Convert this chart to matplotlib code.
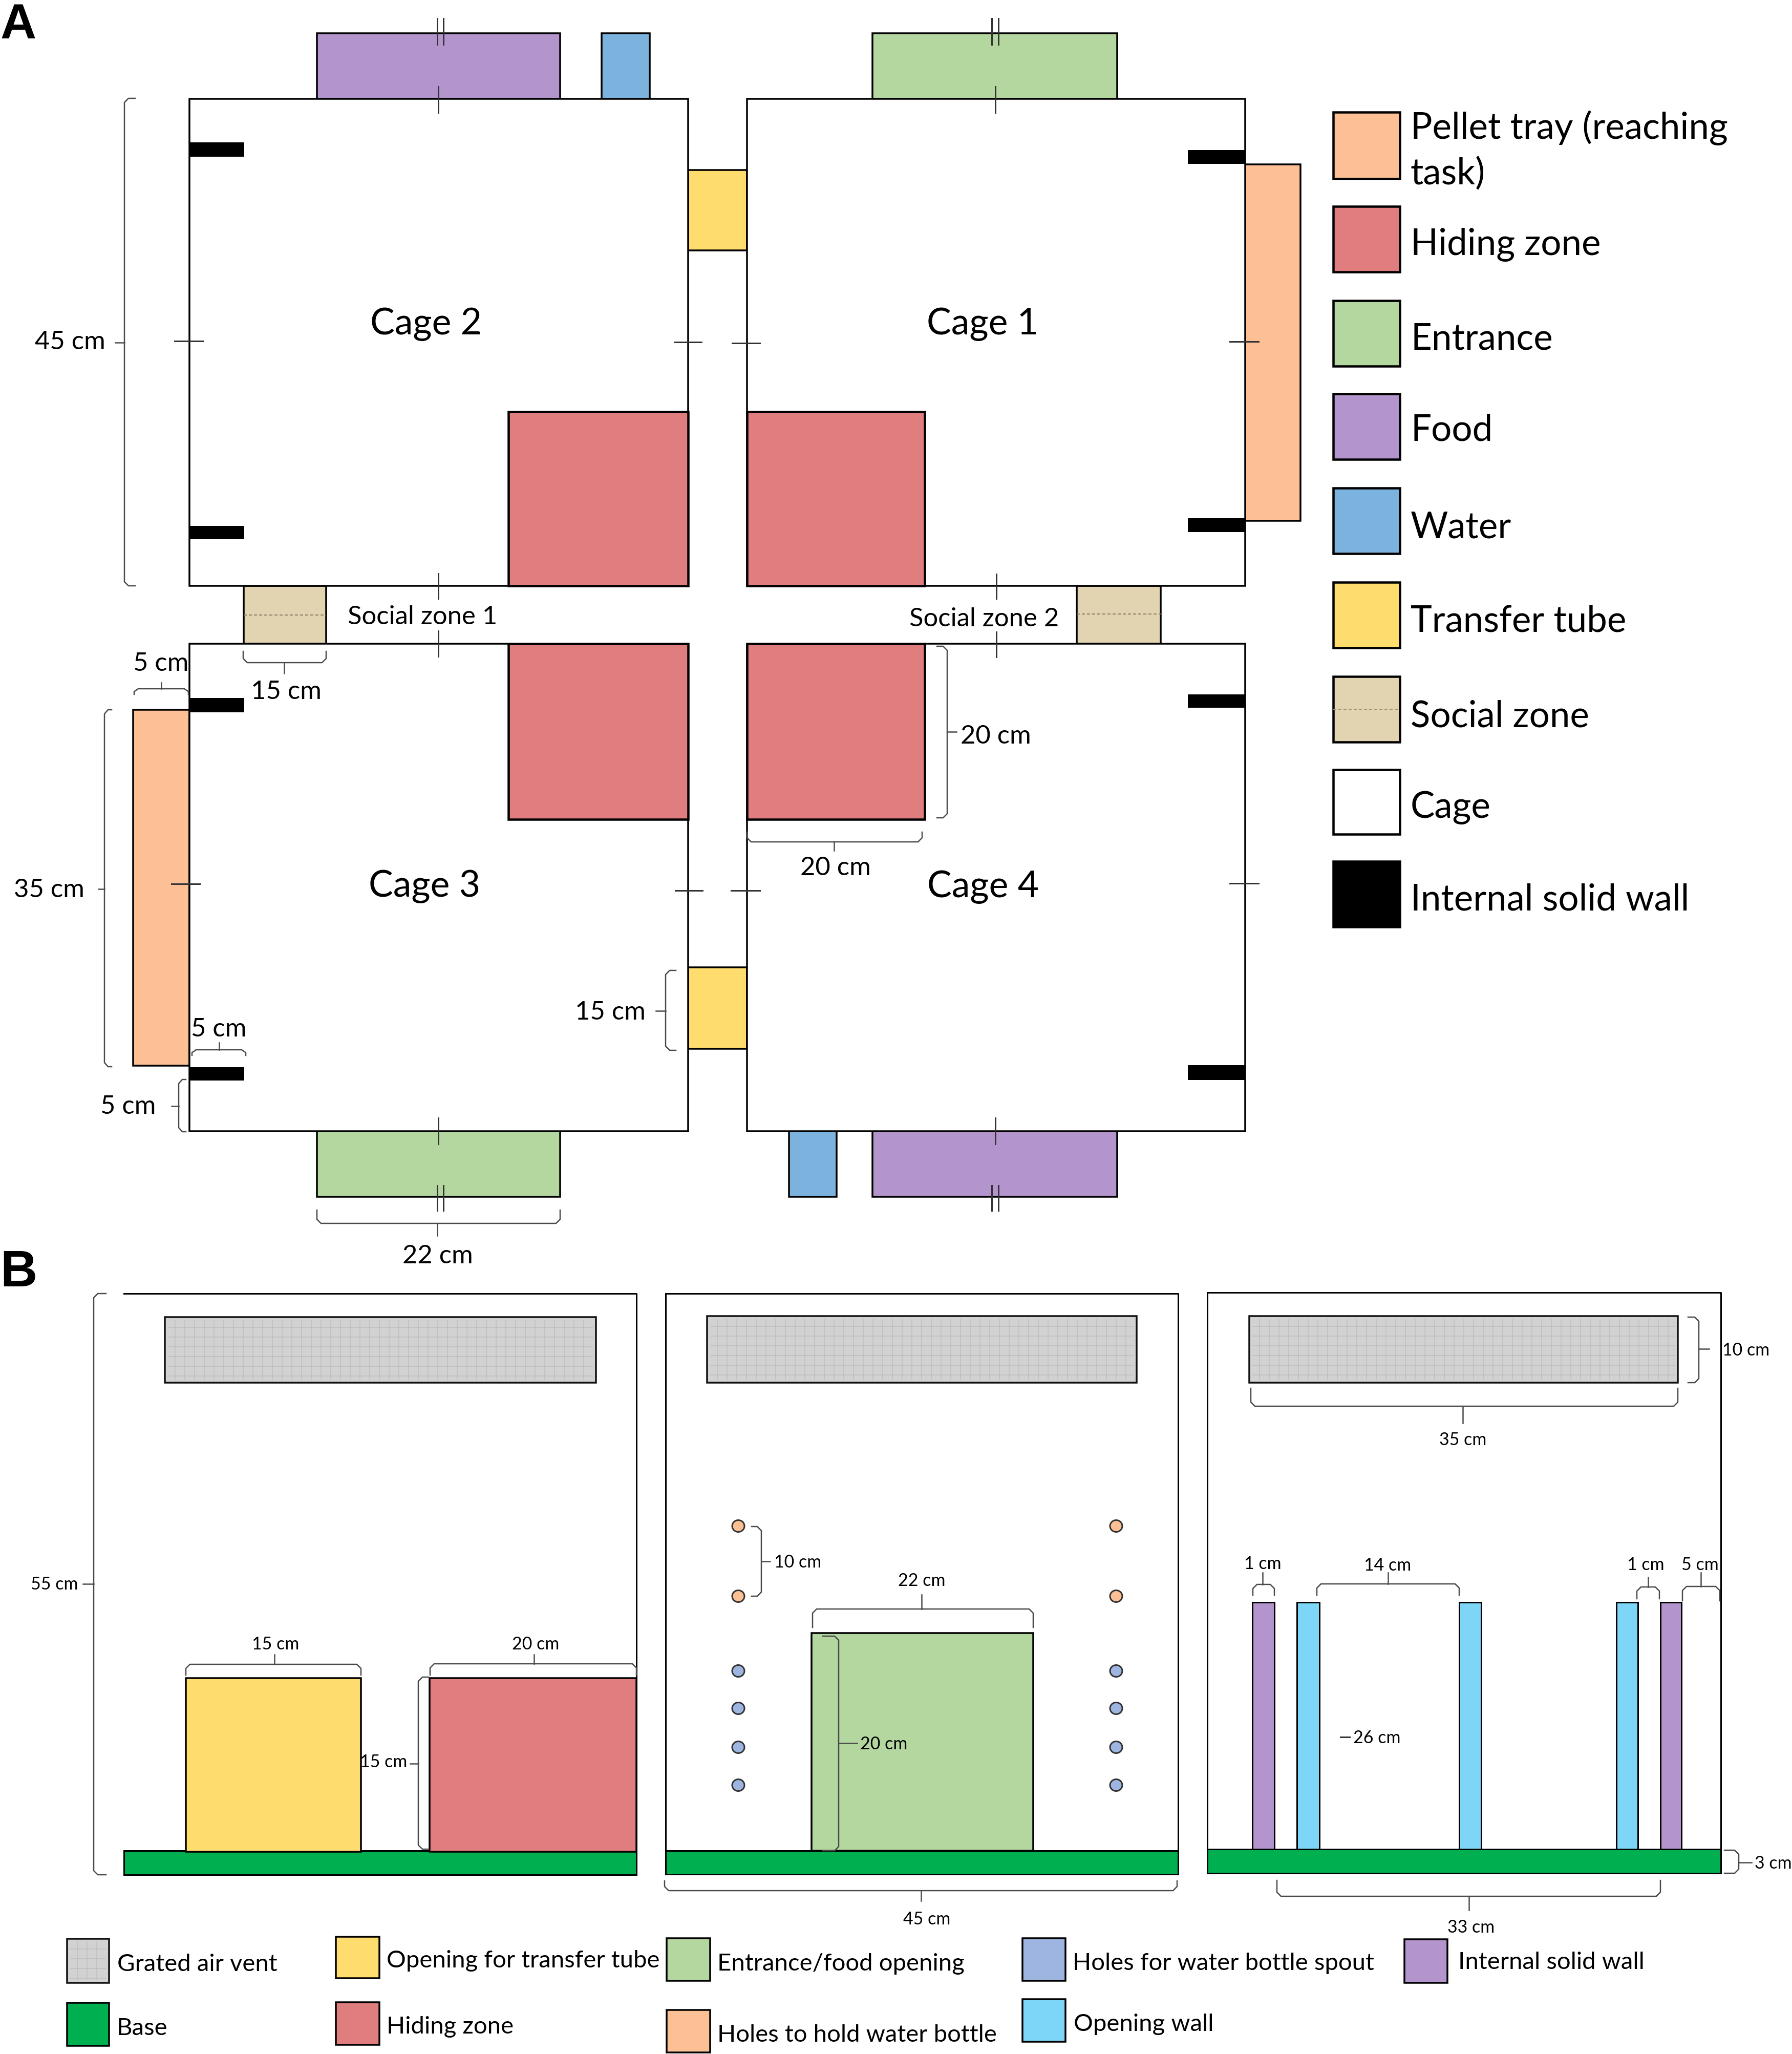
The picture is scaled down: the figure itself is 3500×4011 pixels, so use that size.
import matplotlib
matplotlib.use("Agg")
import matplotlib.pyplot as plt
from matplotlib.patches import Rectangle, Ellipse
import numpy as np

plt.rcParams['font.family'] = ['Lato', 'DejaVu Sans']

C_FOOD, C_WATER, C_ENTR, C_TUBE = '#b394cc', '#7bb3de', '#b4d69f', '#ffdc6e'
C_HIDE, C_PELLET, C_SOCIAL = '#e07d7e', '#fdbf94', '#e3d4b1'
C_BASE, C_VENT, C_OPEN, C_SPOUT = '#00b050', '#d2d2d2', '#7dd6f8', '#9db5e0'

# ---- panel A rectangles: (x0, y0, x1, y1)
cages = [(370, 194, 1344, 1145), (1459, 194, 2432, 1145),
         (370, 1258, 1344, 2210), (1459, 1258, 2432, 2210)]
cage_names = ['Cage 2', 'Cage 1', 'Cage 3', 'Cage 4']
cage_label_xy = [(832, 633), (1919, 633), (829, 1731), (1920, 1732)]
food_a = [(619, 66, 1094, 194), (1704, 2210, 2182, 2338)]
water_a = [(1175, 66, 1269, 194), (1541, 2210, 1634, 2338)]
entrance_a = [(1704, 66, 2182, 194), (619, 2210, 1094, 2338)]
tube_a = [(1344, 333, 1459, 490), (1344, 1890, 1459, 2049)]
hiding_a = [(993, 805, 1344, 1145), (1459, 805, 1806, 1145),
            (993, 1258, 1344, 1601), (1459, 1258, 1806, 1601)]
social_a = [(476, 1145, 637, 1258), (2103, 1145, 2267, 1258)]
social_dash_y = [1202, 1200]
walls_a = [(370, 279, 476, 306), (370, 1028, 476, 1053),
           (2320, 294, 2432, 320), (2320, 1013, 2432, 1039),
           (370, 1364, 476, 1391), (370, 2085, 476, 2110),
           (2320, 1357, 2432, 1382), (2320, 2081, 2432, 2109)]
pellet_a = [(2432, 322, 2540, 1018), (260, 1387, 370, 2082)]

ticks_v = [(856, 170, 221), (856, 1121, 1170), (856, 1233, 1283), (856, 2184, 2235),
           (1944, 170, 221), (1946, 1122, 1170), (1946, 1235, 1284), (1944, 2184, 2235),
           (854, 37, 88), (866, 37, 88), (854, 2316, 2365), (866, 2316, 2365),
           (1937, 37, 88), (1950, 37, 88), (1937, 2316, 2365), (1950, 2316, 2365)]
ticks_h = [(341, 396, 667), (1317, 1370, 669), (1430, 1484, 671), (2402, 2458, 668),
           (335, 390, 1727), (1319, 1372, 1740), (1428, 1484, 1740), (2402, 2458, 1726),
           (2618, 2636, 3393)]

# ---- panel A legend
legend_a_labels = ['Pellet tray (reaching\ntask)', 'Hiding zone', 'Entrance', 'Food', 'Water',
                   'Transfer tube', 'Social zone', 'Cage', 'Internal solid wall']
legend_a_colors = [C_PELLET, C_HIDE, C_ENTR, C_FOOD, C_WATER, C_TUBE, C_SOCIAL, 'white', 'black']
legend_a_y = [(220, 350), (404, 532), (588, 716), (770, 898), (954, 1082),
              (1138, 1266), (1322, 1450), (1504, 1630), (1683, 1811)]
legend_a_text_y = [294, 478, 662, 840, 1030, 1213, 1399, 1577, 1757]

# ---- panel B rectangles
boxes = [(242, 2527, 1243, 3662), (1300, 2527, 2301, 3661), (2358, 2525, 3361, 3659)]
bases = [(242, 3615, 1243, 3662), (1300, 3615, 2301, 3661), (2358, 3612, 3361, 3659)]
vents = [(322, 2573, 1164, 2701), (1381, 2571, 2220, 2701), (2440, 2571, 3277, 2701)]
tube_b = [(363, 3278, 705, 3617)]
hiding_b = [(839, 3278, 1243, 3617)]
entrance_b = [(1585, 3190, 2018, 3615)]
walls_b = [(2446, 3130, 2489, 3612), (3243, 3130, 3284, 3612)]
open_b = [(2533, 3130, 2577, 3612), (2850, 3130, 2893, 3612), (3157, 3130, 3199, 3612)]
hole_x = [1442, 2180]
bottle_hole_y = [2981, 3118]
spout_hole_y = [3264, 3337, 3413, 3487]

# ---- panel B legend: (x0, y0, x1, y1), colour, label, text x, text y
legend_b_rects = [(131, 3787, 213, 3873), (131, 3912, 213, 3996), (656, 3783, 741, 3864),
                  (656, 3911, 741, 3994), (1302, 3786, 1387, 3869), (1302, 3926, 1387, 4009),
                  (1997, 3786, 2081, 3869), (1997, 3905, 2081, 3988), (2743, 3788, 2827, 3873)]
legend_b_colors = [C_VENT, C_BASE, C_TUBE, C_HIDE, C_ENTR, C_PELLET, C_SPOUT, C_OPEN, C_FOOD]
legend_b_labels = ['Grated air vent', 'Base', 'Opening for transfer tube', 'Hiding zone',
                   'Entrance/food opening', 'Holes to hold water bottle',
                   'Holes for water bottle spout', 'Opening wall', 'Internal solid wall']
legend_b_tx = [229, 228, 755, 755, 1401, 1401, 2095, 2097, 2848]
legend_b_ty = [3836, 3961, 3829, 3958, 3835, 3974, 3834, 3953, 3832]

# ---- brackets: horizontal (x0, x1, y_end, y_spine, x_tip, y_tip)
h_brackets = [(262, 368, 1357, 1346, 315, 1334), (475, 637, 1273, 1295, 555, 1316),
              (375, 480, 2062, 2051, 428, 2037), (619, 1094, 2364, 2390, 854, 2414),
              (1459, 1801, 1626, 1645, 1629, 1662),
              (363, 705, 3272, 3251, 536, 3232), (840, 1243, 3272, 3250, 1043, 3232),
              (1587, 2018, 3179, 3143, 1800, 3115), (1298, 2299, 3674, 3693, 1799, 3713),
              (2443, 3277, 2712, 2747, 2857, 2780),
              (2447, 2489, 3116, 3095, 2466, 3072), (2572, 2850, 3116, 3094, 2711, 3072),
              (3197, 3241, 3123, 3100, 3219, 3081), (3286, 3359, 3127, 3099, 3322, 3072),
              (2494, 3243, 3673, 3704, 2869, 3731)]
# vertical (y0, y1, x_end, x_spine, y_tip, x_tip)
v_brackets = [(193, 1145, 264, 243, 670, 225), (1387, 2084, 218, 204, 1737, 192),
              (2109, 2211, 363, 349, 2161, 335), (1896, 2052, 1320, 1300, 1975, 1281),
              (1263, 1598, 1830, 1850, 1430, 1868),
              (2527, 3662, 207, 183, 3094, 162), (3276, 3612, 837, 817, 3445, 801),
              (2982, 3118, 1468, 1487, 3050, 1504), (3196, 3615, 1607, 1638, 3405, 1674),
              (2573, 2701, 3297, 3318, 2635, 3338), (3614, 3659, 3368, 3396, 3638, 3421)]

# ---- dimension texts: (x, y, label, ha, size)
big = 36.5
small = 24.5
dim_texts = [(206, 668, '45 cm', 'right', big), (165, 1738, '35 cm', 'right', big),
             (304, 2161, '5 cm', 'right', big), (314, 1296, '5 cm', 'center', big),
             (559, 1351, '15 cm', 'center', big), (427, 2010, '5 cm', 'center', big),
             (1261, 1977, '15 cm', 'right', big), (855, 2453, '22 cm', 'center', big),
             (1632, 1695, '20 cm', 'center', big), (1876, 1438, '20 cm', 'left', big),
             (679, 1205, 'Social zone 1', 'left', big), (1776, 1209, 'Social zone 2', 'left', big),
             (153, 3094, '55 cm', 'right', small), (538, 3211, '15 cm', 'center', small),
             (1046, 3211, '20 cm', 'center', small), (795, 3441, '15 cm', 'right', small),
             (1512, 3051, '10 cm', 'left', small), (1800, 3087, '22 cm', 'center', small),
             (1680, 3406, '20 cm', 'left', small), (1810, 3748, '45 cm', 'center', small),
             (2857, 2812, '35 cm', 'center', small), (3364, 2637, '10 cm', 'left', small),
             (2466, 3054, '1 cm', 'center', small), (2710, 3057, '14 cm', 'center', small),
             (3214, 3056, '1 cm', 'center', small), (3320, 3056, '5 cm', 'center', small),
             (2643, 3394, '26 cm', 'left', small), (3427, 3639, '3 cm', 'left', small),
             (2873, 3764, '33 cm', 'center', small)]

fig = plt.figure(figsize=(35, 40.12), dpi=100)
ax = fig.add_axes([0, 0, 1, 1])
ax.set_xlim(0, 3500)
ax.set_ylim(4012, 0)
ax.axis('off')

def px(w):
    return w * 72 / 100

def box(r, fc, ec='black', lw=3.5, z=2):
    ax.add_patch(Rectangle((r[0], r[1]), r[2] - r[0], r[3] - r[1], fc=fc, ec=ec,
                           lw=px(lw), zorder=z, joinstyle='miter'))

def chamfer(a, b):
    return np.sign(b - a) * min(8, abs(b - a) / 2)

def hbr(x0, x1, ye, ys, xt, yt):
    d = chamfer(ye, ys)
    ax.plot([x0, x0, x0 + 8, x1 - 8, x1, x1], [ye, ys - d, ys, ys, ys - d, ye],
            color='#4a4a4a', lw=px(2.5), zorder=6, solid_joinstyle='round')
    ax.plot([xt, xt], [ys, yt], color='#4a4a4a', lw=px(2.5), zorder=6)

def vbr(y0, y1, xe, xs, yt, xt):
    d = chamfer(xe, xs)
    ax.plot([xe, xs - d, xs, xs, xs - d, xe], [y0, y0, y0 + 8, y1 - 8, y1, y1],
            color='#4a4a4a', lw=px(2.5), zorder=6, solid_joinstyle='round')
    ax.plot([xs, xt], [yt, yt], color='#4a4a4a', lw=px(2.5), zorder=6)

# panel A
for r in food_a:
    box(r, C_FOOD)
for r in water_a:
    box(r, C_WATER)
for r in entrance_a:
    box(r, C_ENTR)
for r in tube_a:
    box(r, C_TUBE)
for r in pellet_a:
    box(r, C_PELLET)
for r, yd in zip(social_a, social_dash_y):
    box(r, C_SOCIAL)
    ax.plot([r[0], r[2]], [yd, yd], color='#8a7f66', lw=px(2), ls=(0, (3, 2)), zorder=3)
for r in cages:
    box(r, 'white', z=3)
for r in hiding_a:
    box(r, C_HIDE, lw=4.5, z=4)
for r in walls_a:
    box(r, 'black', lw=1, z=4)
for n, (x, y) in zip(cage_names, cage_label_xy):
    ax.text(x, y, n, fontsize=51.5, ha='center', va='center', zorder=7)
for x, y0, y1 in ticks_v:
    ax.plot([x, x], [y0, y1], color='#333333', lw=px(3), zorder=6)
for x0, x1, y in ticks_h:
    ax.plot([x0, x1], [y, y], color='#333333', lw=px(3), zorder=6)

# legend A
for (y0, y1), c in zip(legend_a_y, legend_a_colors):
    box((2604, y0, 2734, y1), c, lw=4.5)
ax.plot([2604, 2734], [1386, 1386], color='#a09478', lw=px(2), ls=(0, (3, 2)), zorder=3)
for lab, y in zip(legend_a_labels, legend_a_text_y):
    ax.text(2755, y, lab, fontsize=51, ha='left', va='center', linespacing=1.4, zorder=7)

# panel B
for r in boxes:
    ax.plot([r[0], r[2], r[2]], [r[1], r[1], r[3]], color='black', lw=px(3), zorder=3)
for r in boxes[1:]:
    ax.plot([r[0], r[0]], [r[1], r[3]], color='black', lw=px(3), zorder=3)

def vent(r):
    box(r, C_VENT, ec='#111111', lw=3.5)
    for x in np.arange(r[0] + 20, r[2] - 6, 19):
        ax.plot([x, x], [r[1] + 6, r[3] - 6], color='#bfbfbf', lw=px(1.5), zorder=3)
    for y in np.arange(r[1] + 20, r[3] - 6, 19):
        ax.plot([r[0] + 6, r[2] - 6], [y, y], color='#bfbfbf', lw=px(1.5), zorder=3)

for r in vents:
    vent(r)
for r in bases:
    box(r, C_BASE, lw=3, z=2)
for r in tube_b:
    box(r, C_TUBE)
for r in hiding_b:
    box(r, C_HIDE)
for r in entrance_b:
    box(r, C_ENTR)
for r in walls_b:
    box(r, C_FOOD, lw=3)
for r in open_b:
    box(r, C_OPEN, lw=3)
for x in hole_x:
    for y in bottle_hole_y:
        ax.add_patch(Ellipse((x, y), 24, 23, fc=C_PELLET, ec='#333333', lw=px(3), zorder=4))
    for y in spout_hole_y:
        ax.add_patch(Ellipse((x, y), 24, 23, fc=C_SPOUT, ec='#333333', lw=px(3), zorder=4))

for b in h_brackets:
    hbr(*b)
for b in v_brackets:
    vbr(*b)
for x, y, s, ha, fs in dim_texts:
    ax.text(x, y, s, fontsize=fs, ha=ha, va='center', zorder=7)

# legend B
for r, c in zip(legend_b_rects, legend_b_colors):
    if c == C_VENT:
        vent(r)
    else:
        box(r, c)
for lab, x, y in zip(legend_b_labels, legend_b_tx, legend_b_ty):
    ax.text(x, y, lab, fontsize=34, ha='left', va='center', zorder=7)

# panel letters
ax.text(1, 5, 'A', fontsize=70, fontweight='bold', family='Liberation Sans', ha='left', va='top')
ax.text(0, 2486, 'B', fontsize=72, fontweight='bold', family='Liberation Sans', ha='left', va='center')

fig.savefig('out.png', dpi=100, facecolor='white')
